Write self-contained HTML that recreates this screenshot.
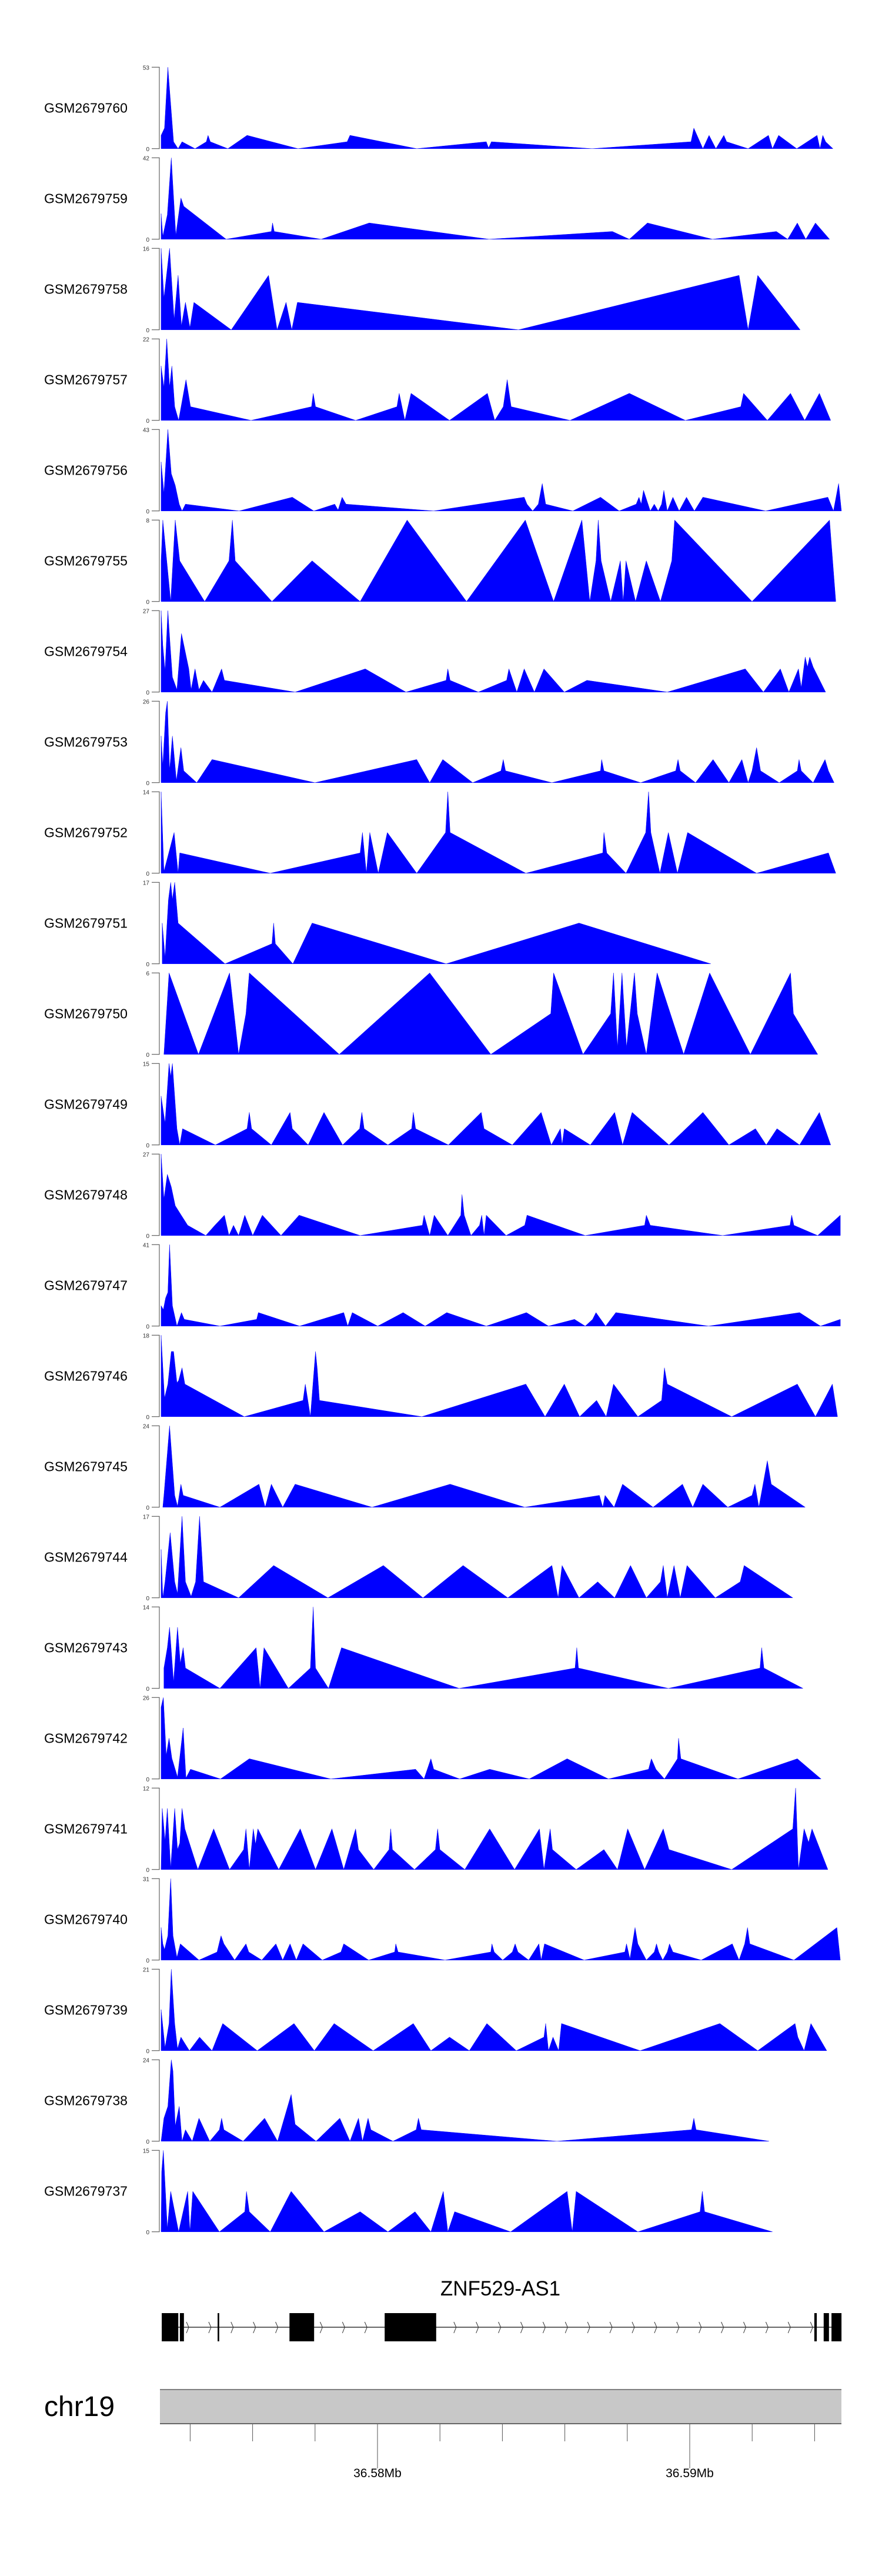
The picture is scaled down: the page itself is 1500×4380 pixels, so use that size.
<!DOCTYPE html>
<html><head><meta charset="utf-8"><style>
html,body{margin:0;padding:0;background:#fff;}
svg{display:block;font-family:"Liberation Sans",Arial,sans-serif;}
</style></head><body>
<svg id="chart" width="1500" height="4380" viewBox="0 0 1500 4380" xmlns="http://www.w3.org/2000/svg">
<g id="tracks"></g>
<g id="gene">
<text x="851" y="3903" font-size="35" text-anchor="middle" fill="#000">ZNF529-AS1</text>
<line x1="275" y1="3957" x2="1431" y2="3957" stroke="#333" stroke-width="1.5"/>
</g>
<g id="ideo">
<text x="75" y="4108" font-size="48" fill="#000">chr19</text>
<rect x="272" y="4063" width="1159" height="58" fill="#c8c8c8"/>
<line x1="272" y1="4063" x2="1431" y2="4063" stroke="#808080" stroke-width="2"/>
<line x1="272" y1="4121" x2="1431" y2="4121" stroke="#666" stroke-width="2"/>
</g>
</svg>
<script>
// ---- data ----
const sampleNames = ["GSM2679760","GSM2679759","GSM2679758","GSM2679757","GSM2679756","GSM2679755","GSM2679754","GSM2679753","GSM2679752","GSM2679751","GSM2679750","GSM2679749","GSM2679748","GSM2679747","GSM2679746","GSM2679745","GSM2679744","GSM2679743","GSM2679742","GSM2679741","GSM2679740","GSM2679739","GSM2679738","GSM2679737"];
const sampleMax = [53,42,16,22,43,8,27,26,14,17,6,15,27,41,18,24,17,14,26,12,31,21,24,15];
const t1=[[285,0],[285,8.7],[291,13.4],[297,53],[307,4.5],[315,0],[322,4.5],[345,0],[365,4.5],[368,8.7],[372,4.5],[403,0],[437,8.7],[527,0],[614,4.5],[619,8.7],[737,0],[860,4.5],[864,0.5],[869,4.5],[1047,0],[1222,4.5],[1227,13.4],[1243,0],[1254,8.7],[1266,0],[1280,8.7],[1285,4.5],[1323,0],[1359,8.7],[1366,0],[1377,8.7],[1409,0],[1445,8.7],[1450,0],[1455,8.7],[1460,4.5],[1473,0]];
const t2=[[285,0],[285,13.2],[288,1.5],[296,12.6],[303,42],[311,2],[320,21.3],[325,17],[400,0],[480,4],[482,8.4],[485,4],[568,0],[653,8.4],[865,0],[1083,4],[1113,0],[1145,8.4],[1260,0],[1373,4],[1393,0],[1410,8.4],[1425,0],[1442,8.4],[1467,0]];
const t3=[[285,0],[285,16],[290,6.2],[300,16],[308,2],[315,10.7],[321,0.8],[328,5.4],[336,0.4],[343,5.4],[409,0],[475,10.7],[490,0],[506,5.4],[516,0],[526,5.4],[917,0],[1307,10.7],[1323,0],[1340,10.7],[1415,0]];
const t4=[[285,0],[285,14.7],[290,8.9],[295,22],[300,8.9],[304,14.7],[309,3.7],[316,0],[329,11],[337,3.7],[444,0],[551,3.7],[554,7.3],[558,3.7],[629,0],[702,3.7],[706,7.3],[716,0],[727,7.3],[795,0],[862,7.3],[875,0],[890,3.7],[897,11],[904,3.7],[1008,0],[1113,7.3],[1212,0],[1310,3.7],[1315,7.3],[1357,0],[1398,7.3],[1423,0],[1449,7.3],[1469,0]];
const t5=[[285,0],[285,25.9],[290,9.3],[297,43],[303,19.7],[310,13.5],[317,3.6],[322,0],[328,3.6],[423,0],[517,7.25],[555,0],[592,3.6],[598,0.5],[605,7.25],[612,3.6],[767,0],[927,7.25],[932,3.6],[942,0],[952,3.6],[959,14.5],[965,3.6],[1013,0],[1062,7.25],[1095,0],[1125,3.6],[1130,7.25],[1134,3.6],[1138,10.9],[1150,0],[1157,3.6],[1164,0],[1170,3.6],[1174,10.9],[1180,0],[1190,7.25],[1201,0],[1214,7.25],[1228,0],[1243,7.25],[1354,0],[1464,7.25],[1474,0],[1483,14.5],[1488,0]];
const t6=[[285,0],[285,4],[288,8],[302,0],[310,8],[318,4],[362,0],[405,4],[411,8],[416,4],[481,0],[552,4],[637,0],[720,8],[825,0],[929,8],[979,0],[1029,8],[1043,0],[1054,4],[1058,8],[1063,4],[1080,0],[1097,4],[1102,0],[1107,4],[1124,0],[1143,4],[1168,0],[1188,4],[1193,8],[1330,0],[1467,8],[1478,0]];
const t7=[[285,0],[285,27],[288,15.5],[292,7],[297,27],[301,15.5],[305,5],[313,0.8],[321,19.4],[334,7.7],[338,0.8],[345,7.7],[352,0.8],[360,3.9],[375,0],[392,7.7],[397,3.9],[522,0],[646,7.7],[718,0],[789,3.9],[792,7.7],[796,3.9],[846,0],[896,3.9],[900,7.7],[914,0],[927,7.7],[945,0],[962,7.7],[998,0],[1038,3.9],[1180,0],[1318,7.7],[1350,0],[1380,7.7],[1395,0],[1412,7.7],[1417,1.5],[1424,11.6],[1428,8.3],[1432,11.6],[1438,8.3],[1460,0]];
const t8=[[285,0],[285,14.9],[288,5.3],[293,22.3],[296,26],[300,3.8],[305,14.9],[312,0.6],[320,11.2],[325,3.8],[348,0],[375,7.4],[557,0],[737,7.4],[760,0],[783,7.4],[836,0],[886,3.8],[890,7.4],[894,3.8],[976,0],[1062,3.8],[1064,7.4],[1068,3.8],[1133,0],[1195,3.8],[1199,7.4],[1203,3.8],[1230,0],[1261,7.4],[1289,0],[1312,7.4],[1323,0],[1330,3.8],[1338,11.2],[1345,3.8],[1378,0],[1410,3.8],[1413,7.4],[1417,3.8],[1438,0],[1459,7.4],[1465,3.8],[1475,0]];
const t9=[[285,0],[285,14],[290,0.3],[308,7],[315,0],[318,3.5],[478,0],[637,3.5],[641,7],[648,0],[654,7],[669,0],[685,7],[737,0],[788,7],[792,14],[796,7],[930,0],[1066,3.5],[1068,7],[1073,3.5],[1107,0],[1142,7],[1147,14],[1151,7],[1167,0],[1182,7],[1198,0],[1216,7],[1338,0],[1465,3.5],[1478,0]];
const t10=[[287,0],[287,8.5],[292,1.3],[298,13.4],[302,17],[305,13.4],[309,17],[315,8.5],[398,0],[481,4.2],[484,8.5],[487,4.2],[518,0],[552,8.5],[789,0],[1024,8.5],[1257,0]];
const t11=[[290,0],[299,6],[351,0],[406,6],[422,0],[435,3],[441,6],[600,0],[760,6],[868,0],[974,3],[979,6],[1031,0],[1080,3],[1085,6],[1092,0.5],[1100,6],[1108,0.5],[1122,6],[1127,3],[1143,0],[1162,6],[1209,0],[1255,6],[1327,0],[1398,6],[1403,3],[1446,0]];
const t12=[[285,0],[285,9],[292,4],[299,15],[302,12.6],[305,15],[313,3],[318,0],[323,3],[381,0],[437,3],[441,6],[445,3],[480,0],[513,6],[517,3],[545,0],[573,6],[606,0],[636,3],[640,6],[644,3],[686,0],[728,3],[731,6],[735,3],[793,0],[851,6],[856,3],[906,0],[957,6],[975,0],[991,3],[994,0],[998,3],[1044,0],[1087,6],[1101,0],[1118,6],[1183,0],[1243,6],[1289,0],[1336,3],[1355,0],[1374,3],[1414,0],[1449,6],[1469,0]];
const t13=[[285,0],[285,27],[290,12.1],[296,20.3],[303,16.1],[310,9.9],[320,6.9],[332,3.4],[364,0],[380,3.4],[397,6.75],[405,0],[413,3.4],[422,0],[433,6.75],[447,0],[464,6.75],[497,0],[529,6.75],[637,0],[747,3.4],[750,6.75],[760,0],[768,6.75],[792,0],[815,6.75],[817,13.6],[821,6.75],[833,0],[848,3.4],[852,6.75],[856,0],[860,6.75],[895,0],[928,3.4],[932,6.75],[1035,0],[1140,3.4],[1143,6.75],[1150,3.4],[1278,0],[1397,3.4],[1400,6.75],[1404,3.4],[1446,0],[1486,6.75],[1486,0]];
const t14=[[285,0],[285,10.3],[289,8.3],[293,14.2],[297,17],[300,41],[305,10.3],[313,0],[321,6.8],[326,3.4],[389,0],[454,3.4],[457,6.8],[530,0],[608,6.8],[615,0],[623,6.8],[668,0],[713,6.8],[752,0],[790,6.8],[860,0],[931,6.8],[970,0],[1016,3.4],[1035,0],[1048,3.4],[1054,6.8],[1071,0],[1089,6.8],[1253,0],[1414,6.8],[1451,0],[1486,3.4],[1486,0]];
const t15=[[285,0],[285,18],[291,4.1],[297,7.2],[303,14.4],[307,14.4],[313,7.5],[316,8],[322,10.8],[327,7.2],[432,0],[536,3.6],[540,7.2],[549,0],[558,14.4],[561,10.8],[565,3.6],[746,0],[930,7.2],[964,0],[998,7.2],[1025,0],[1055,3.6],[1072,0],[1085,7.2],[1128,0],[1170,3.6],[1175,10.8],[1180,7.2],[1294,0],[1410,7.2],[1442,0],[1472,7.2],[1481,0]];
const t16=[[288,0],[290,3.5],[300,24],[309,3.5],[314,0.3],[320,6.8],[324,3.5],[389,0],[458,6.8],[469,0],[480,6.8],[500,0],[522,6.8],[658,0],[796,6.8],[928,0],[1060,3.5],[1066,0],[1070,3.5],[1086,0],[1101,6.8],[1155,0],[1207,6.8],[1225,0],[1243,6.8],[1287,0],[1330,3.5],[1335,6.8],[1342,0],[1357,13.7],[1364,6.8],[1424,0]];
const t17=[[285,0],[285,10.1],[288,0],[292,3.35],[301,13.6],[309,3.35],[314,0.9],[322,17],[328,3.35],[338,0.3],[346,3.35],[353,17],[360,3.35],[422,0],[484,6.75],[580,0],[678,6.75],[748,0],[819,6.75],[898,0],[976,6.75],[987,0],[994,6.75],[1024,0],[1057,3.35],[1087,0],[1115,6.75],[1143,0],[1168,3.35],[1173,6.75],[1180,0],[1192,6.75],[1203,0],[1215,6.75],[1265,0],[1309,3.35],[1316,6.75],[1402,0]];
const t18=[[290,0],[290,3.5],[296,7],[300,10.5],[307,1.1],[314,10.5],[319,4.3],[324,7],[328,3.5],[389,0],[453,7],[460,0],[467,7],[510,0],[549,3.5],[554,14],[558,3.5],[581,0],[604,7],[812,0],[1017,3.5],[1020,7],[1023,3.5],[1182,0],[1344,3.5],[1347,7],[1351,3.5],[1420,0]];
const t19=[[285,0],[285,22.9],[289,26],[294,7.5],[299,13],[304,6.6],[314,0.6],[324,16.3],[329,0.3],[337,3.1],[390,0],[441,6.45],[585,0],[735,3.1],[750,0],[762,6.45],[767,3.1],[813,0],[866,3.1],[936,0],[1003,6.45],[1076,0],[1147,3.1],[1152,6.45],[1160,3.1],[1175,0],[1198,6.45],[1200,13],[1204,6.45],[1305,0],[1410,6.45],[1452,0]];
const t20=[[285,0],[287,9],[292,4.2],[296,9],[302,0.2],[309,9],[314,2.95],[318,3.9],[322,9],[327,6],[350,0],[378,6],[406,0],[431,2.95],[435,6],[441,0],[448,6],[452,3.7],[456,6],[493,0],[531,6],[558,0],[587,6],[608,0],[629,6],[634,2.95],[661,0],[688,2.95],[691,6],[694,2.95],[733,0],[770,2.95],[774,6],[778,2.95],[822,0],[866,6],[910,0],[954,6],[962,0],[973,6],[977,2.95],[1019,0],[1068,2.95],[1092,0],[1110,6],[1140,0],[1173,6],[1183,2.95],[1294,0],[1402,6],[1407,12],[1412,0],[1422,6],[1430,4],[1436,6],[1464,0]];
const t21=[[285,0],[285,12.4],[288,6.2],[291,4],[297,9.3],[302,31],[306,9.3],[313,1],[319,6.2],[352,0],[384,3.1],[391,9.3],[396,6.2],[415,0],[435,6.2],[440,3.1],[463,0],[488,6.2],[500,0],[513,6.2],[524,0],[536,6.2],[570,0],[603,3.1],[608,6.2],[652,0],[698,3.1],[700,6.2],[704,3.1],[787,0],[868,3.1],[870,6.2],[874,3.1],[889,0],[906,3.1],[911,6.2],[916,3.1],[935,0],[953,6.2],[957,0],[963,6.2],[1033,0],[1105,3.1],[1108,6.2],[1114,0.5],[1123,12.4],[1128,6.2],[1143,0],[1157,3.1],[1161,6.2],[1165,3.1],[1172,0],[1180,3.1],[1184,6.2],[1190,3.1],[1240,0],[1295,6.2],[1307,0],[1317,6.2],[1322,12.4],[1326,6.2],[1404,0],[1480,12.4],[1486,0]];
const t22=[[285,0],[285,10.6],[292,0.8],[299,7],[303,21],[309,7],[314,0.5],[320,3.5],[335,0],[353,3.5],[375,0],[394,7],[455,0],[520,7],[556,0],[591,7],[660,0],[731,7],[762,0],[795,3.5],[830,0],[861,7],[913,0],[962,3.5],[965,7],[970,0],[978,3.5],[988,0],[993,7],[1132,0],[1273,7],[1340,0],[1406,7],[1411,3.5],[1422,0],[1434,7],[1462,0]];
const t23=[[285,0],[290,6.8],[297,10.3],[303,24],[306,20.6],[310,4.5],[317,10.3],[322,0],[328,3.4],[340,0],[352,6.8],[371,0],[388,3.4],[392,6.8],[396,3.4],[430,0],[468,6.8],[491,0],[515,13.8],[522,5],[559,0],[601,6.8],[619,0],[634,6.8],[641,0],[651,6.8],[656,3.4],[695,0],[736,3.4],[740,6.8],[745,3.4],[985,0],[1223,3.4],[1227,6.8],[1231,3.4],[1360,0]];
const t24=[[285,0],[286,11.1],[289,15],[296,0.6],[302,7.45],[316,0],[332,7.45],[336,0],[341,7.45],[388,0],[433,3.7],[436,7.45],[441,3.7],[478,0],[515,7.45],[573,0],[637,3.7],[686,0],[734,3.7],[762,0],[784,7.45],[792,0],[804,3.7],[903,0],[1003,7.45],[1012,0],[1019,7.45],[1128,0],[1238,3.7],[1242,7.45],[1246,3.7],[1366,0]];
const trackData=[t1,t2,t3,t4,t5,t6,t7,t8,t9,t10,t11,t12,t13,t14,t15,t16,t17,t18,t19,t20,t21,t22,t23,t24];
const exonStarts=[36573.09,36573.67,36574.88,36577.18,36580.23,36593.99,36594.29,36594.54];
const exonEnds=[36573.62,36573.80,36574.93,36577.97,36581.88,36594.07,36594.46,36594.86];
const axisTicks=[36574,36576,36578,36580,36582,36584,36586,36588,36590,36592,36594];
const axisLabels=["36.58Mb","36.59Mb"];
const axisLabelPos=[36580,36590];

// ---- scales ----
const NS="http://www.w3.org/2000/svg";
function px(p){return 274+(p-285)*(1431-274)/(1488-285);}   // track position units -> px
function gx(kb){return 642+(kb-36580)*53.1;}                  // genomic kb -> px
const trackTop=i=>114.3+154*i, trackH=138.5;
function mk(tag,attrs,parent){const e=document.createElementNS(NS,tag);for(const k in attrs)e.setAttribute(k,attrs[k]);parent.appendChild(e);return e;}

const tg=document.getElementById('tracks');
trackData.forEach((d,i)=>{
  const top=trackTop(i), base=top+trackH, mx=sampleMax[i];
  const y=v=>base-v/mx*trackH;
  const g=mk('g',{},tg);
  
  
  const lab=mk('text',{x:75,y:top+trackH/2+8,'font-size':23,fill:'#000'},g);
  lab.textContent=sampleNames[i];
  
  
  const ax=mk('path',{d:`M258,${top}H271V${base}H258`,fill:'none',stroke:'#444','stroke-width':1},g);
  
  
  const tmax=mk('text',{x:254,y:top+4,'font-size':10,'text-anchor':'end',fill:'#333'},g);
  tmax.textContent=mx;
  
  
  const t0=mk('text',{x:254,y:base+4,'font-size':10,'text-anchor':'end',fill:'#333'},g);
  t0.textContent='0';
  
  
  let pts=`${px(d[0][0]).toFixed(1)},${base} `;
  d.forEach(p=>{pts+=`${px(p[0]).toFixed(1)},${y(p[1]).toFixed(1)} `;});
  pts+=`${px(d[d.length-1][0]).toFixed(1)},${base}`;
  const poly=mk('polygon',{points:pts,fill:'#0000ff',stroke:'#0000ff','stroke-width':0.5},g);
  
  
});

// gene model
const gg=document.getElementById('gene');
const inExon=x=>exonStarts.some((s,k)=>x>=gx(s)-6&&x<=gx(exonEnds[k])+2);
for(let x=317;x<1380;x+=37.9){
  if(inExon(x))continue;
  const c=mk('path',{d:`M${x.toFixed(1)},3948L${(x+4).toFixed(1)},3957L${x.toFixed(1)},3967`,fill:'none',stroke:'#333','stroke-width':1},gg);
  
  
}
exonStarts.forEach((s,k)=>{
  const r=mk('rect',{x:gx(s).toFixed(1),y:3933,width:Math.max(2.5,gx(exonEnds[k])-gx(s)).toFixed(1),height:48,fill:'#000'},gg);
  
  
});

// genome axis
const ig=document.getElementById('ideo');
axisTicks.forEach(t=>{
  const major=axisLabelPos.includes(t);
  const l=mk('line',{x1:gx(t),x2:gx(t),y1:4122,y2:major?4197:4151,stroke:'#555','stroke-width':1},ig);
  
  
});
axisLabels.forEach((s,k)=>{
  const t=mk('text',{x:gx(axisLabelPos[k]),y:4212,'font-size':21,'text-anchor':'middle',fill:'#000'},ig);
  t.textContent=s;
  
  
});
</script>
</body></html>
